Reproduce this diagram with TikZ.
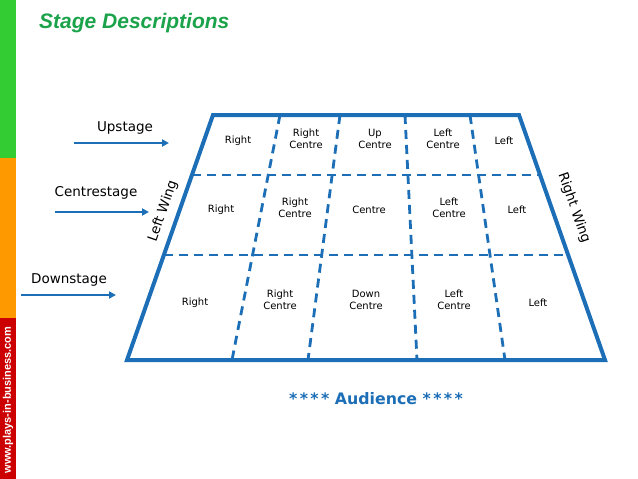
\documentclass[tikz,border=0pt]{standalone}
\usepackage{fontspec}
\setmainfont{DejaVu Sans}
\newfontfamily\arialfont{Liberation Sans}
\usetikzlibrary{arrows.meta}
\definecolor{stageblue}{RGB}{28,110,182}
\definecolor{bargreen}{RGB}{51,204,51}
\definecolor{barorange}{RGB}{255,153,0}
\definecolor{barred}{RGB}{204,0,0}
\definecolor{titlegreen}{RGB}{26,163,74}
\tikzset{
  stageline/.style={draw=stageblue,line width=4pt},
  divline/.style={draw=stageblue,line width=2.8pt,dash pattern=on 9pt off 6pt},
  cell/.style={align=center,inner sep=0pt,font=\fontsize{10}{12.5}\selectfont},
  sidelabel/.style={inner sep=0pt,font=\fontsize{13.5}{16}\selectfont},
  rowarrow/.style={draw=stageblue,line width=2pt,-{Triangle[length=7pt,width=7pt]}}
}
\newcommand{\fourstars}{*\kern2.4pt*\kern2.4pt*\kern2.4pt*}
\begin{document}
\begin{tikzpicture}[x=1pt,y=-1pt]
\useasboundingbox (0,0) rectangle (638,479);
% side bar
\fill[bargreen] (0,0) rectangle (16,158);
\fill[barorange] (0,158) rectangle (16,318);
\fill[barred] (0,318) rectangle (16,479);
\node[rotate=90,text=white,inner sep=0pt,font=\arialfont\bfseries\fontsize{11}{13}\selectfont] (web) at (8,400) {www.plays-in-business.com};
% title
\node[anchor=west,inner sep=0pt,text=titlegreen,font=\arialfont\bfseries\itshape\fontsize{21}{25}\selectfont] (title) at (39,23) {Stage Descriptions};
% corners
\coordinate (tl) at (213,115);
\coordinate (tr) at (519,115);
\coordinate (br) at (605,360);
\coordinate (bl) at (127,360);
% dashed divisions
\coordinate (h1l) at (192,175); \coordinate (h1r) at (540,175);
\coordinate (h2l) at (164,255); \coordinate (h2r) at (568,255);
\coordinate (v1t) at (280,115); \coordinate (v1b) at (232,360);
\coordinate (v2t) at (340,115); \coordinate (v2b) at (308,360);
\coordinate (v3t) at (405,115); \coordinate (v3b) at (417,360);
\coordinate (v4t) at (470,115); \coordinate (v4b) at (505,360);
\draw[divline] (h1l) -- (h1r);
\draw[divline] (h2l) -- (h2r);
\draw[divline] (v1t) -- (v1b);
\draw[divline] (v2t) -- (v2b);
\draw[divline] (v3t) -- (v3b);
\draw[divline] (v4t) -- (v4b);
\draw[stageline] (tl) -- (tr) -- (br) -- (bl) -- cycle;
% top row
\node[cell] (a1) at (238,141) {Right};
\node[cell] (a2) at (306,139) {Right\\Centre};
\node[cell] (a3) at (375,139) {Up\\Centre};
\node[cell] (a4) at (443,139) {Left\\Centre};
\node[cell] (a5) at (504,141) {Left};
% middle row
\node[cell] (b1) at (221,210) {Right};
\node[cell] (b2) at (295,208) {Right\\Centre};
\node[cell] (b3) at (369,210) {Centre};
\node[cell] (b4) at (449,208) {Left\\Centre};
\node[cell] (b5) at (517,210) {Left};
% bottom row
\node[cell] (c1) at (195,303) {Right};
\node[cell] (c2) at (280,300) {Right\\Centre};
\node[cell] (c3) at (366,300) {Down\\Centre};
\node[cell] (c4) at (454,300) {Left\\Centre};
\node[cell] (c5) at (538,303) {Left};
% row labels and arrows
\node[sidelabel] (up) at (125,128) {Upstage};
\coordinate (upa) at (74,143); \coordinate (upb) at (169,143);
\draw[rowarrow] (upa) -- (upb);
\node[sidelabel] (cs) at (96,193) {Centrestage};
\coordinate (csa) at (55,212); \coordinate (csb) at (149,212);
\draw[rowarrow] (csa) -- (csb);
\node[sidelabel] (ds) at (69,280) {Downstage};
\coordinate (dsa) at (21,295); \coordinate (dsb) at (116,295);
\draw[rowarrow] (dsa) -- (dsb);
% wings
\node[sidelabel,rotate=70.7] (lw) at (163,211) {Left Wing};
\node[sidelabel,rotate=-70.7] (rw) at (574,208) {Right Wing};
% audience
\node[inner sep=0pt,text=stageblue,font=\bfseries\fontsize{15.8}{18}\selectfont] (aud) at (376,399) {\fourstars{} Audience \fourstars};
\end{tikzpicture}
\end{document}
